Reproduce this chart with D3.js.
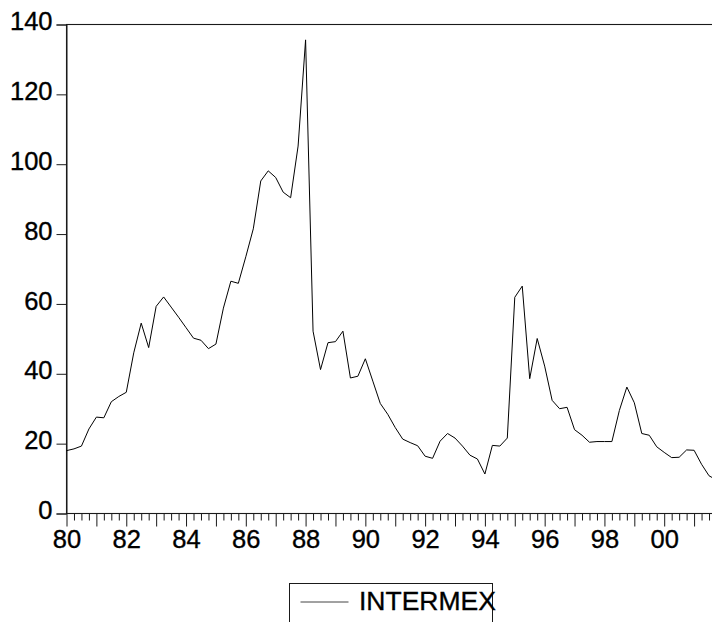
<!DOCTYPE html>
<html>
<head>
<meta charset="utf-8">
<script src="https://cdn.jsdelivr.net/npm/d3@7"></script>
<style>
  body { margin: 0; background: #fff; }
  svg { display: block; }
</style>
</head>
<body>
<div id="my_dataviz"></div>
<script>
// quarterly series, 1980Q1 .. 2001Q4
var startYear = 1980;
var seriesName = "INTERMEX";
var intermex = [
    18.0, 18.5, 19.3, 24.2, 27.6, 27.4, 32.0, 33.5,
    34.7, 46.0, 54.5, 47.5, 59.3, 62.0, 59.1, 56.2,
    53.2, 50.2, 49.6, 47.2, 48.5, 58.8, 66.5, 65.9,
    73.5, 81.5, 95.2, 98.1, 96.2, 92.0, 90.4, 105.2,
    135.6, 52.2, 41.2, 48.9, 49.2, 52.2, 38.8, 39.3,
    44.3, 37.9, 31.5, 28.4, 24.6, 21.3, 20.3, 19.4,
    16.4, 15.8, 20.7, 22.9, 21.6, 19.3, 16.7, 15.6,
    11.3, 19.5, 19.3, 21.6, 61.9, 65.1, 38.6, 50.1,
    42.2, 32.4, 30.0, 30.4, 24.0, 22.4, 20.4, 20.6,
    20.6, 20.6, 29.5, 36.2, 31.7, 22.9, 22.4, 19.1,
    17.5, 16.0, 16.1, 18.2, 18.1, 14.1, 10.8, 9.6
];
var yTicks = [0, 20, 40, 60, 80, 100, 120, 140];
var xLabelYears = [1980, 1982, 1984, 1986, 1988, 1990, 1992, 1994, 1996, 1998, 2000];

var periods = intermex.map(function(v, i) { return startYear + i / 4; });
var data = intermex.map(function(v, i) { return {t: periods[i], value: v}; });

var W = 712, H = 622;
var margin = {top: 24, right: -4, bottom: 109, left: 66},
    width = W - margin.left - margin.right,
    height = H - margin.top - margin.bottom;

var font = "Liberation Sans, Arial, Helvetica, sans-serif";
var ink = "#1a1a1a";

var x = d3.scaleLinear()
    .domain([periods[0], periods[periods.length - 1]])
    .range([0, width]);
var y = d3.scaleLinear().domain([0, 140]).range([height, 0]);

var svg = d3.select("#my_dataviz")
    .append("svg")
        .attr("width", W)
        .attr("height", H)
    .append("g")
        .attr("transform", "translate(" + (margin.left + 0.5) + "," + (margin.top + 0.5) + ")");

// frame (right side falls outside the picture)
svg.append("rect")
    .attr("x", 0).attr("y", 0)
    .attr("width", width).attr("height", height)
    .attr("fill", "none")
    .attr("stroke", ink)
    .attr("stroke-width", 1.1);

// quarterly minor ticks
svg.append("g")
    .attr("transform", "translate(0," + height + ")")
    .call(d3.axisBottom(x).tickValues(periods.filter(function(p, i) { return i % 4 != 0; }))
        .tickSize(7).tickFormat(""))
    .call(function(g) { g.select(".domain").remove(); })
    .selectAll("line").attr("stroke", ink);

// yearly major ticks
var years = periods.filter(function(p, i) { return i % 4 == 0; });
svg.append("g")
    .attr("transform", "translate(0," + height + ")")
    .call(d3.axisBottom(x).tickValues(years).tickSize(13).tickFormat(""))
    .call(function(g) { g.select(".domain").remove(); })
    .selectAll("line").attr("stroke", ink);

// year labels every two years
var xLab = svg.append("g")
    .attr("transform", "translate(0," + height + ")")
    .call(d3.axisBottom(x).tickValues(xLabelYears).tickSize(0)
        .tickFormat(function(d) { return d3.format("02d")(d % 100); }));
xLab.select(".domain").remove();
xLab.selectAll("text")
    .attr("y", 16)
    .attr("dy", "0.71em")
    .style("font", "25.5px " + font)
    .attr("fill", "#000")
    .attr("stroke", "#000").attr("stroke-width", 0.35);

// Y axis
var yAx = svg.append("g")
    .call(d3.axisLeft(y).tickValues(yTicks).tickSize(10).tickPadding(4));
yAx.select(".domain").attr("stroke", ink);
yAx.selectAll("line").attr("stroke", ink);
yAx.selectAll("text")
    .attr("dy", "0.2em")
    .style("font", "25.5px " + font)
    .attr("fill", "#000")
    .attr("stroke", "#000").attr("stroke-width", 0.35);

// the series
var line = d3.line()
    .x(function(d) { return x(d.t); })
    .y(function(d) { return y(d.value); });

svg.append("path")
    .datum(data)
    .attr("d", line)
    .attr("fill", "none")
    .attr("stroke", "#000")
    .attr("stroke-width", 1);

// legend
var root = d3.select("#my_dataviz svg");
var legend = root.append("g").attr("transform", "translate(289.5,583.5)");
legend.append("rect")
    .attr("width", 203).attr("height", 60)
    .attr("fill", "none").attr("stroke", ink).attr("stroke-width", 1);
legend.append("line")
    .attr("x1", 11).attr("x2", 59)
    .attr("y1", 18.5).attr("y2", 18.5)
    .attr("stroke", "#444").attr("stroke-width", 1);
legend.append("text")
    .attr("x", 69.5).attr("y", 26.5)
    .style("font", "26.5px " + font)
    .attr("fill", "#000")
    .attr("stroke", "#000").attr("stroke-width", 0.35)
    .text(seriesName);
</script>
</body>
</html>
